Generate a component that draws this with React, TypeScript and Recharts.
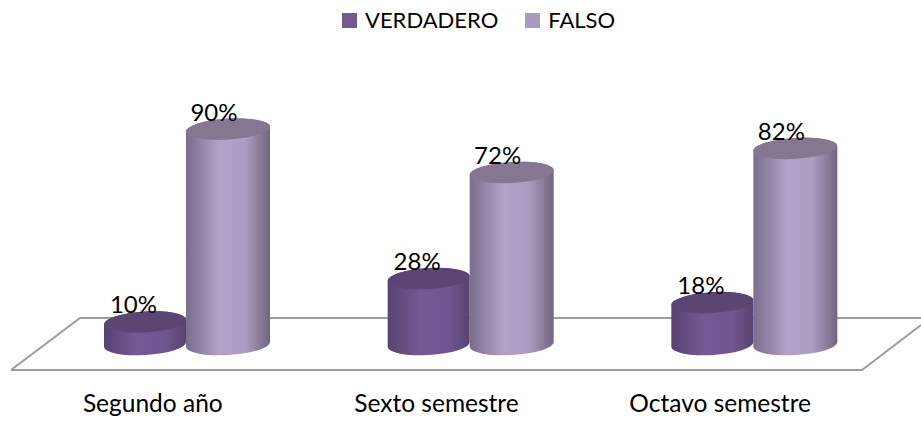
import React from "react";
import { BarChart, Bar, XAxis, YAxis, LabelList, Customized } from "recharts";

const categories = ["Segundo año", "Sexto semestre", "Octavo semestre"];
const verdadero = [10, 28, 18];
const falso = [90, 72, 82];
const seriesNames = ["VERDADERO", "FALSO"];
const legendColors = ["#735a93", "#a99bc0"];
const data = categories.map((name, i) => ({ name, VERDADERO: verdadero[i], FALSO: falso[i] }));

const FONT = "Lato, 'Open Sans', sans-serif";
const TILT = -3.4;

function Cylinder(props: any) {
  const { x: x0, y, width: w0, height, gradient, top, inset = 0 } = props;
  const x = x0 + inset;
  const width = w0 - inset;
  const rx = width / 2;
  const ry = 10.5;
  const cx = x + rx;
  const bottom = y + height - 1.5;
  const d = rx * Math.sin((-TILT * Math.PI) / 180);
  const body = `M${x},${y + d} L${x},${bottom + d} A${rx},${ry} ${TILT} 0 0 ${x + width},${bottom - d} L${x + width},${y - d} A${rx},${ry} ${TILT} 0 0 ${x},${y + d} Z`;
  return (
    <g>
      <path d={body} fill={`url(#${gradient})`} />
      <ellipse cx={cx} cy={y} rx={rx} ry={ry} fill={top} transform={`rotate(${TILT} ${cx} ${y})`} />
    </g>
  );
}

function PctLabel(props: any) {
  const { x, y, width, value, shift } = props;
  return (
    <text x={x + width / 2 + shift} y={y - 8.5} textAnchor="middle" fontSize={24} fontFamily={FONT} fill="#000">
      {value}%
    </text>
  );
}

function CatTick(props: any) {
  const { x, y, payload } = props;
  return (
    <text x={x - 33} y={y} textAnchor="middle" fontSize={24.5} fontFamily={FONT} fill="#000">
      {payload.value}
    </text>
  );
}

function Floor() {
  return (
    <g fill="none" stroke="#9c9c9c" strokeWidth={2}>
      <path d="M11,370 L80,318 L921,318" />
      <path d="M11,370 L862,370 L921,325" />
    </g>
  );
}

function Legend2() {
  return (
    <div style={{ position: "absolute", left: 342, top: 7, display: "flex", alignItems: "center", fontFamily: FONT, fontSize: 22, color: "#000", lineHeight: "26px" }}>
      {seriesNames.map((n, i) => (
        <span key={n} style={{ display: "inline-flex", alignItems: "center", marginRight: i === 0 ? 27 : 0 }}>
          <span style={{ width: 15, height: 15, background: legendColors[i], marginRight: 8, display: "inline-block" }} />
          {n}
        </span>
      ))}
    </div>
  );
}

export default function App() {
  return (
    <div style={{ position: "absolute", left: 0, top: 0, width: 921, height: 421, background: "#fff" }}>
      <Legend2 />
      <BarChart width={921} height={421} data={data} barGap={0} barSize={84} margin={{ top: 105, right: 26, bottom: 45, left: 44 }}>
        <defs>
          <linearGradient id="gradV" x1="0" x2="1" y1="0" y2="0">
            <stop offset="0" stopColor="#57426f" />
            <stop offset="0.4" stopColor="#745a94" />
            <stop offset="0.75" stopColor="#6f5690" />
            <stop offset="1" stopColor="#57426f" />
          </linearGradient>
          <linearGradient id="gradF" x1="0" x2="1" y1="0" y2="0">
            <stop offset="0" stopColor="#7a6d8c" />
            <stop offset="0.4" stopColor="#b3a2c7" />
            <stop offset="0.7" stopColor="#ae9dc2" />
            <stop offset="1" stopColor="#726580" />
          </linearGradient>
        </defs>
        <Customized component={Floor} />
        <XAxis dataKey="name" height={30} axisLine={false} tickLine={false} tickMargin={60} interval={0} tick={<CatTick />} />
        <YAxis hide domain={[0, 100]} />
        <Bar dataKey="VERDADERO" fill={legendColors[0]} isAnimationActive={false} shape={<Cylinder gradient="gradV" top="#5b4572" inset={2} />}>
          <LabelList dataKey="VERDADERO" content={<PctLabel shift={-10.5} />} />
        </Bar>
        <Bar dataKey="FALSO" fill={legendColors[1]} isAnimationActive={false} shape={<Cylinder gradient="gradF" top="#857792" />}>
          <LabelList dataKey="FALSO" content={<PctLabel shift={-14} />} />
        </Bar>
      </BarChart>
    </div>
  );
}
